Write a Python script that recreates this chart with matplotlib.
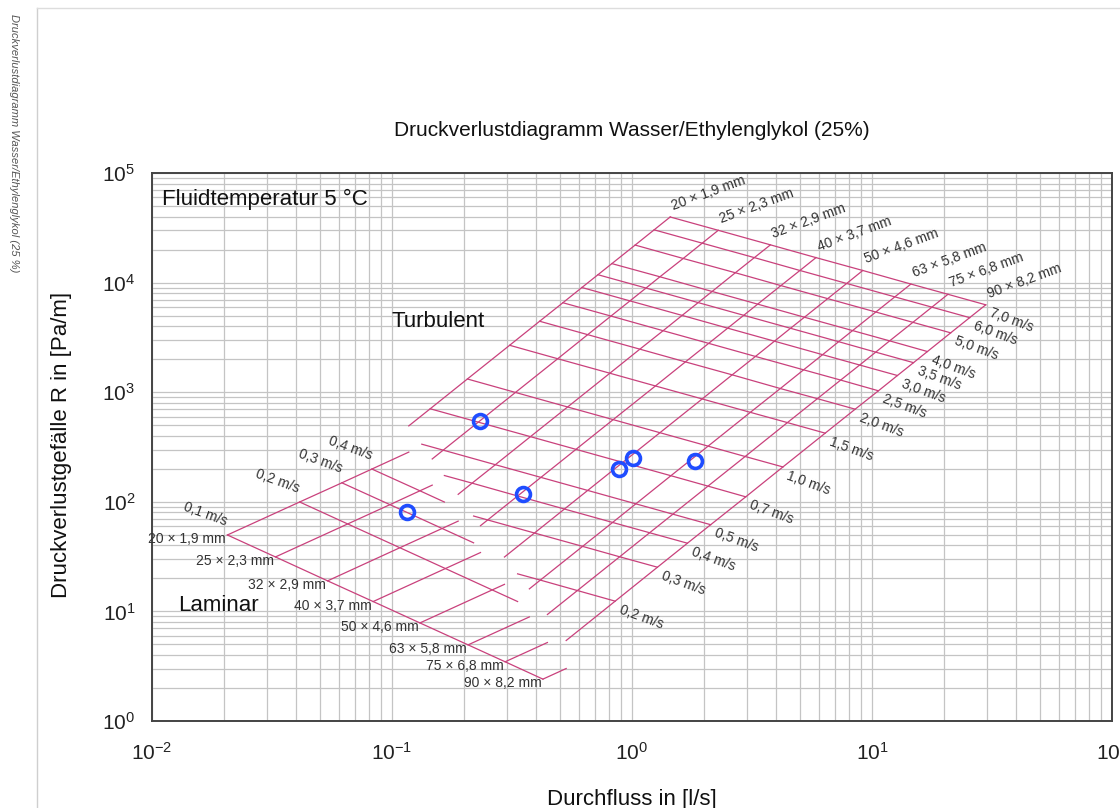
import numpy as np
import matplotlib.pyplot as plt
from matplotlib.lines import Line2D

plt.rcParams['font.family'] = ['Liberation Sans', 'DejaVu Sans']
plt.rcParams['mathtext.default'] = 'regular'

# Rohre: Aussendurchmesser x Wandstaerke [mm]
pipe_labels = ['20 × 1,9 mm', '25 × 2,3 mm', '32 × 2,9 mm', '40 × 3,7 mm',
               '50 × 4,6 mm', '63 × 5,8 mm', '75 × 6,8 mm', '90 × 8,2 mm']
pipe_outer = [20, 25, 32, 40, 50, 63, 75, 90]
pipe_wall = [1.9, 2.3, 2.9, 3.7, 4.6, 5.8, 6.8, 8.2]

# Geschwindigkeiten turbulent / laminar [m/s]
v_turb = [0.2, 0.3, 0.4, 0.5, 0.7, 1.0, 1.5, 2.0, 2.5, 3.0, 3.5, 4.0, 5.0, 6.0, 7.0]
v_turb_labels = ['0,2 m/s', '0,3 m/s', '0,4 m/s', '0,5 m/s', '0,7 m/s', '1,0 m/s',
                 '1,5 m/s', '2,0 m/s', '2,5 m/s', '3,0 m/s', '3,5 m/s', '4,0 m/s',
                 '5,0 m/s', '6,0 m/s', '7,0 m/s']
v_lam = [0.1, 0.2, 0.3, 0.4]
v_lam_labels = ['0,1 m/s', '0,2 m/s', '0,3 m/s', '0,4 m/s']

# Umschlag laminar/turbulent je Rohr [m/s]
v_crit = [0.57, 0.45, 0.35, 0.28, 0.225, 0.18, 0.15, 0.125]

# Druckgefaelle [Pa/m], Zeilen = Rohre, Spalten = v_turb
R_turb = [
    [79, 160, 265, 392, 706, 1320, 2680, 4440, 6550, 9020, 11800, 14900, 22000, 30300, 39700],
    [59.5, 121, 200, 296, 533, 995, 2020, 3350, 4950, 6810, 8920, 11300, 16600, 22900, 30000],
    [43.8, 89.2, 148, 218, 393, 733, 1490, 2470, 3640, 5020, 6570, 8300, 12300, 16900, 22100],
    [33.6, 68.3, 113, 167, 301, 562, 1140, 1890, 2790, 3840, 5030, 6360, 9390, 12900, 16900],
    [25.5, 51.9, 85.9, 127, 229, 427, 868, 1440, 2120, 2920, 3830, 4830, 7140, 9820, 12900],
    [19.3, 39.2, 64.8, 95.8, 173, 322, 655, 1080, 1600, 2200, 2890, 3650, 5390, 7410, 9700],
    [15.5, 31.5, 52.2, 77.1, 139, 259, 528, 873, 1290, 1770, 2320, 2940, 4340, 5970, 7820],
    [12.4, 25.3, 41.9, 61.8, 111, 208, 423, 700, 1030, 1420, 1860, 2350, 3480, 4790, 6270],
]
# Zeilen = Rohre, Spalten = v_lam
R_lam = [
    [49.8, 99.6, 149, 199],
    [31.4, 62.8, 94.2, 126],
    [19.0, 38.1, 57.1, 76.2],
    [12.3, 24.6, 36.9, 49.2],
    [7.85, 15.7, 23.5, 31.4],
    [4.95, 9.89, 14.8, 19.8],
    [3.47, 6.93, 10.4, 13.9],
    [2.41, 4.82, 7.23, 9.64],
]

# Messpunkte
meas_Q = [0.233, 0.115, 0.351, 0.883, 1.01, 1.83]
meas_R = [546, 80.7, 118, 199, 251, 236]

grid_col = '#c9417c'
label_col = '#333333'
d_in = (np.array(pipe_outer) - 2 * np.array(pipe_wall)) / 1000.0
lA = np.log10(np.pi / 4 * d_in ** 2 * 1000.0)   # log Flaeche, Q in l/s
lvt = np.log10(v_turb)
lvl = np.log10(v_lam)
lRt = np.log10(R_turb)
lRl = np.log10(R_lam)
lvc = np.log10(v_crit)
n_pipe = len(pipe_labels)


def seg(x, xs, ys):
    # gerade Verbindung im log-Raum, am Rand verlaengert
    k = int(np.clip(np.searchsorted(xs, x) - 1, 0, len(xs) - 2))
    t = (x - xs[k]) / (xs[k + 1] - xs[k])
    return ys[k] + t * (ys[k + 1] - ys[k])


def draw(ax, lq, lr):
    ax.plot(10 ** np.array(lq), 10 ** np.array(lr), color=grid_col, lw=0.9, zorder=3)


fig = plt.figure(figsize=(11.2, 8.08), dpi=100)
ax = fig.add_axes([152 / 1120, 87 / 808, 960 / 1120, 548 / 808])
ax.set_xscale('log')
ax.set_yscale('log')
ax.set_xlim(1e-2, 1e2)
ax.set_ylim(1e0, 1e5)
ax.grid(True, which='both', color='#c4c4c4', lw=0.9, zorder=0)
ax.set_xticks([1e-2, 1e-1, 1e0, 1e1, 1e2])
ax.set_xticklabels(['$10^{-2}$', '$10^{-1}$', '$10^{0}$', '$10^{1}$', '$10^{2}$'])
ax.set_yticks([1e0, 1e1, 1e2, 1e3, 1e4, 1e5])
ax.set_yticklabels(['$10^{0}$', '$10^{1}$', '$10^{2}$', '$10^{3}$', '$10^{4}$', '$10^{5}$'])
ax.tick_params(which='both', length=0, labelsize=15, colors='#222222')
ax.tick_params(axis='x', pad=15)
ax.tick_params(axis='y', pad=12)
for s in ax.spines.values():
    s.set_color('#444444')
    s.set_linewidth(1.4)

# turbulentes Netz: Rohrlinien
for i in range(n_pipe):
    lv = [lvc[i]] + [x for x in lvt if x > lvc[i]]
    lr = [seg(x, lvt, lRt[i]) for x in lv]
    draw(ax, [x + lA[i] for x in lv], lr)
    ax.annotate(pipe_labels[i], (10 ** (lvt[-1] + lA[i]), R_turb[i][-1]),
                xytext=(3, 3), textcoords='offset points', rotation=20,
                rotation_mode='anchor', ha='left', va='bottom', fontsize=10, color=label_col)

# turbulentes Netz: Geschwindigkeitslinien
for j, v in enumerate(v_turb):
    turb = [i for i in range(n_pipe) if v_crit[i] <= v]
    i0 = turb[0]
    lq = [lvt[j] + lA[i] for i in turb]
    lr = [lRt[i][j] for i in turb]
    if i0 > 0:
        t = (lvc[i0 - 1] - lvt[j]) / (lvc[i0 - 1] - lvc[i0])
        lq.insert(0, lvt[j] + lA[i0 - 1] + t * (lA[i0] - lA[i0 - 1]))
        lr.insert(0, lRt[i0 - 1][j] + t * (lRt[i0][j] - lRt[i0 - 1][j]))
    draw(ax, lq, lr)
    ax.annotate(v_turb_labels[j], (10 ** lq[-1], 10 ** lr[-1]),
                xytext=(5, -1), textcoords='offset points', rotation=-20,
                rotation_mode='anchor', ha='left', va='top', fontsize=10, color=label_col)

# laminares Netz: Rohrlinien
for i in range(n_pipe):
    lv = [x for x in lvl if x < lvc[i]] + [lvc[i]]
    lr = [seg(x, lvl, lRl[i]) for x in lv]
    draw(ax, [x + lA[i] for x in lv], lr)
    ax.annotate(pipe_labels[i], (10 ** (lvl[0] + lA[i]), R_lam[i][0]),
                xytext=(-1, -3), textcoords='offset points',
                ha='right', va='center', fontsize=10, color=label_col)

# laminares Netz: Geschwindigkeitslinien
for j, v in enumerate(v_lam):
    lam = [i for i in range(n_pipe) if v_crit[i] > v]
    i1 = lam[-1]
    lq = [lvl[j] + lA[i] for i in lam]
    lr = [lRl[i][j] for i in lam]
    if i1 < n_pipe - 1:
        t = (lvc[i1] - lvl[j]) / (lvc[i1] - lvc[i1 + 1])
        lq.append(lvl[j] + lA[i1] + t * (lA[i1 + 1] - lA[i1]))
        lr.append(lRl[i1][j] + t * (lRl[i1 + 1][j] - lRl[i1][j]))
    draw(ax, lq, lr)
    ax.annotate(v_lam_labels[j], (10 ** lq[0], 10 ** lr[0]),
                xytext=(-2, 5), textcoords='offset points', rotation=-20,
                rotation_mode='anchor', ha='right', va='bottom', fontsize=10, color=label_col)

ax.plot(meas_Q, meas_R, 'o', ms=10, mfc='none', mec='#1f4dff', mew=2.6, zorder=5)

ax.text(0.011, 5.7e4, 'Fluidtemperatur 5 °C', fontsize=16, color='#111111', va='center')
ax.text(0.1, 4.4e3, 'Turbulent', fontsize=16, color='#111111', va='center')
ax.text(0.0128, 11.4, 'Laminar', fontsize=16, color='#111111', va='center')
ax.text(0.5, 1.078, 'Druckverlustdiagramm Wasser/Ethylenglykol (25%)', transform=ax.transAxes,
        ha='center', va='center', fontsize=15, color='#111111')

fig.text(62 / 1120, 1 - 445 / 808, 'Druckverlustgefälle R in [Pa/m]', rotation=90,
         ha='center', va='center', fontsize=16, color='#111111')
fig.text(632 / 1120, 1 - 799 / 808, 'Durchfluss in [l/s]', ha='center', va='center',
         fontsize=16, color='#111111')

# Seitenrand mit Randvermerk
fig.add_artist(Line2D([37 / 1120, 37 / 1120], [0, 1 - 8 / 808], color='#cfcfcf', lw=1))
fig.add_artist(Line2D([37 / 1120, 1], [1 - 8 / 808, 1 - 8 / 808], color='#dddddd', lw=1))
fig.text(14 / 1120, 1 - 14 / 808, 'Druckverlustdiagramm Wasser/Ethylenglykol (25 %)',
         rotation=270, ha='center', va='top', fontsize=8, style='italic', color='#555555')

fig.savefig('out.png', dpi=100)
